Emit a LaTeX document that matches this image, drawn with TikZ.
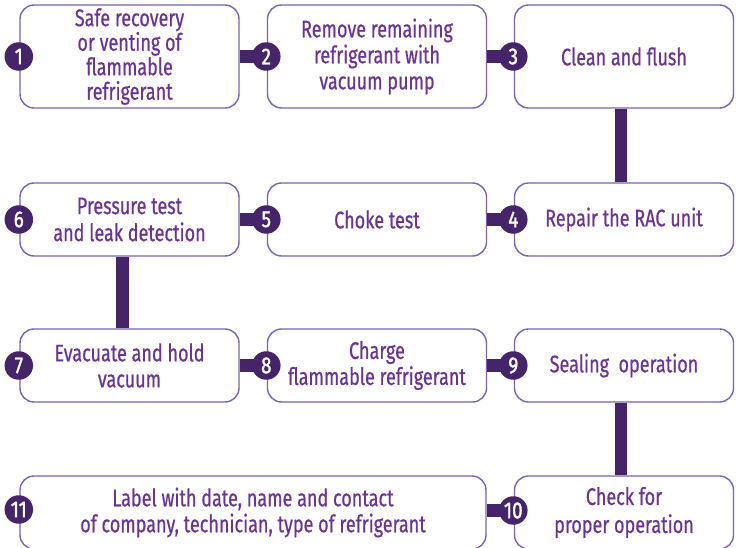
\documentclass[tikz,border=0pt]{standalone}
\usepackage{fontspec}
\setmainfont{Fira Sans}[FakeStretch=0.75,FakeBold=0.6]
\newfontfamily\numfont{Fira Sans}[FakeStretch=0.82,FakeBold=1.5]
\definecolor{boxline}{HTML}{7A63B3}
\definecolor{txt}{HTML}{6A3394}
\definecolor{dark}{HTML}{45246A}
\begin{document}
\begin{tikzpicture}[x=1pt,y=-1pt,
  box/.style={draw=boxline, line width=1.4pt, rounded corners=14pt, fill=white,
    minimum width=219pt, minimum height=73pt, align=center, text=txt,
    font=\fontsize{24}{26}\selectfont, inner sep=0pt},
  num/.style={circle, fill=dark, minimum size=28.5pt, inner sep=0pt, text=white,
    font=\numfont\fontsize{23}{23}\selectfont},
  bar/.style={draw=dark, line width=12.5pt}]
\useasboundingbox (0,0) rectangle (736,548);
% boxes
\node[box, minimum height=103pt, font=\fontsize{24}{24.5}\selectfont] (b1) at (129.5,56.5) {Safe recovery\\or venting of\\flammable\\refrigerant};
\node[box, minimum height=103pt] (b2) at (377,56.5) {Remove remaining\\refrigerant with\\vacuum pump};
\node[box, minimum height=103pt] (b3) at (624,56.5) {Clean and flush};
\node[box] (b4) at (624,219.5) {Repair the RAC unit};
\node[box] (b5) at (377,219.5) {Choke test};
\node[box, font=\fontsize{24}{27}\selectfont] (b6) at (129.5,219.5) {Pressure test\\and leak detection};
\node[box] (b7) at (129.5,365.5) {Evacuate and hold\\vacuum};
\node[box] (b8) at (377,365.5) {Charge\\flammable refrigerant};
\node[box] (b9) at (624,365.5) {Sealing\ \ operation};
\node[box, font=\fontsize{24}{28}\selectfont] (b10) at (624,512.5) {Check for\\proper operation};
\node[box, minimum width=466pt] (b11) at (253,512.5) {Label with date, name and contact\\of company, technician, type of refrigerant};
% connectors
\draw[bar] (b1.east) -- (b2.west);
\draw[bar] (b2.east) -- (b3.west);
\draw[bar] ([xshift=-3pt]b3.south) -- ([xshift=-3pt]b4.north);
\draw[bar] (b4.west) -- (b5.east);
\draw[bar] (b5.west) -- (b6.east);
\draw[bar] ([xshift=-7pt]b6.south) -- ([xshift=-7pt]b7.north);
\draw[bar] (b7.east) -- (b8.west);
\draw[bar] (b8.east) -- (b9.west);
\draw[bar] ([xshift=-3pt]b9.south) -- ([xshift=-3pt]b10.north);
\draw[bar] ([yshift=2pt]b10.west) -- ([yshift=2pt]b11.east);
% numbers
\node[num] (c1) at ([xshift=-0.5pt]b1.west) {1};
\node[num] (c2) at ([xshift=-0.5pt]b2.west) {2};
\node[num] (c3) at ([xshift=-0.5pt]b3.west) {3};
\node[num] (c4) at ([xshift=-0.5pt]b4.west) {4};
\node[num] (c5) at ([xshift=-0.5pt]b5.west) {5};
\node[num] (c6) at ([xshift=-0.5pt]b6.west) {6};
\node[num] (c7) at ([xshift=-0.5pt]b7.west) {7};
\node[num] (c8) at ([xshift=-0.5pt]b8.west) {8};
\node[num] (c9) at ([xshift=-0.5pt]b9.west) {9};
\node[num] (c10) at ([xshift=-0.5pt,yshift=2pt]b10.west) {10};
\node[num] (c11) at ([xshift=-0.5pt,yshift=3pt]b11.west) {11};
\end{tikzpicture}
\end{document}
